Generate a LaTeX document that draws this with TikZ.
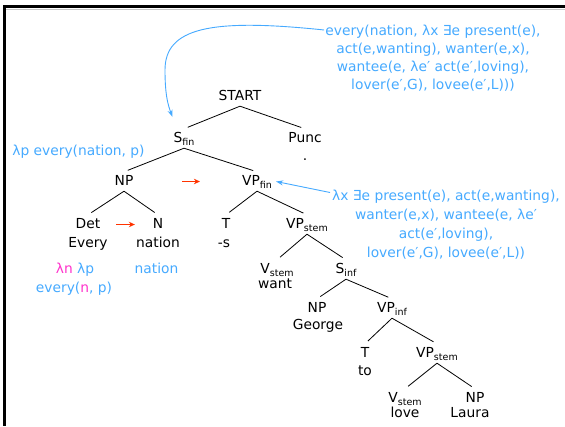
\documentclass[tikz,border=0pt]{standalone}
\usepackage{fontspec}
\setmainfont{DejaVu Sans}
\usetikzlibrary{arrows.meta}
\definecolor{semblue}{RGB}{70,170,255}
\definecolor{semmag}{RGB}{255,51,204}
\definecolor{arrred}{RGB}{255,51,0}
\newcommand{\sbs}[1]{\raisebox{-3.5pt}{\fontsize{9.5}{10}\selectfont #1}}
\begin{document}
\begin{tikzpicture}[x=1pt,y=-1pt]
\tikzset{
 cat/.style={font=\fontsize{13.8}{16}\selectfont, inner sep=3pt, text height=10pt, text depth=3pt, anchor=base},
 sem/.style={font=\fontsize{13.8}{16}\selectfont, text=semblue, inner sep=0pt, anchor=base},
 ann/.style={font=\fontsize{13.8}{18.2}\selectfont, text=semblue, inner sep=0pt, align=center, anchor=north},
 edge/.style={draw=black, line width=0.8pt, shorten >=4pt},
 semarrow/.style={draw=semblue, line width=0.9pt, -{Stealth[length=7pt,width=5pt]}},
 redarrow/.style={draw=arrred, line width=1.4pt, -{Stealth[length=6pt,width=5.5pt]}},
}
\useasboundingbox (0,0) rectangle (565,426);
\fill[white] (0,0) rectangle (565,426);
\draw[gray!45, line width=1pt] (6,9.2) -- (565,9.2);
\draw[line width=3pt] (3,6.5) -- (565,6.5);
\draw[line width=3pt] (4.3,5) -- (4.3,426);

% tree nodes
\node[cat] (start) at (240,100) {START};
\node[cat] (sfin) at (184,142) {S\sbs{fin}};
\node[cat] (punc) at (305,142) {Punc};
\node[cat] (dot) at (305,160) {.};
\node[cat] (np1) at (124,185) {NP};
\node[cat] (vpfin) at (257,185) {VP\sbs{fin}};
\node[cat] (det) at (88,228) {Det};
\node[cat] (every) at (88,247) {Every};
\node[cat] (n) at (158,228) {N};
\node[cat] (nation) at (158,247) {nation};
\node[cat] (t1) at (226,228) {T};
\node[cat] (s) at (224,247) {-s};
\node[cat] (vpstem1) at (307,228) {VP\sbs{stem}};
\node[cat] (vstem1) at (277,273) {V\sbs{stem}};
\node[cat] (want) at (275,288) {want};
\node[cat] (sinf) at (346,273) {S\sbs{inf}};
\node[cat] (np2) at (317,312) {NP};
\node[cat] (george) at (318,329) {George};
\node[cat] (vpinf) at (392,312) {VP\sbs{inf}};
\node[cat] (t2) at (365,357) {T};
\node[cat] (to) at (365,375) {to};
\node[cat] (vpstem2) at (437,357) {VP\sbs{stem}};
\node[cat] (vstem2) at (405,402) {V\sbs{stem}};
\node[cat] (love) at (405,417) {love};
\node[cat] (np3) at (475,402) {NP};
\node[cat] (laura) at (470,417) {Laura};

% semantics
\node[sem] (semS) at (78.5,155) {λp every(nation, p)};
\node[sem] (semdet1) at (75,273) {\textcolor{semmag}{λn} λp};
\node[sem] (semdet2) at (74,292) {every(\textcolor{semmag}{n}, p)};
\node[sem] (semN) at (156.5,273) {nation};
\node[ann] (ann1) at (433,24.5) {every(nation, λx ∃e present(e),\\act(e,wanting), wanter(e,x),\\wantee(e, λe′ act(e′,loving),\\lover(e′,G), lovee(e′,L)))};
\node[ann, font=\fontsize{13.8}{19}\selectfont] (ann2) at (446,189.5) {λx ∃e present(e), act(e,wanting),\\wanter(e,x), wantee(e, λe′\\act(e′,loving),\\lover(e′,G), lovee(e′,L))};

% edges
\draw[edge] (start.south) -- (sfin.north);
\draw[edge] (start.south) -- (punc.north);
\draw[edge] (sfin.south) -- (np1.north);
\draw[edge] (sfin.south) -- (vpfin.north);
\draw[edge] (np1.south) -- (det.north);
\draw[edge] (np1.south) -- (n.north);
\draw[edge] (vpfin.south) -- (t1.north);
\draw[edge] (vpfin.south) -- (vpstem1.north);
\draw[edge] (vpstem1.south) -- (vstem1.north);
\draw[edge] (vpstem1.south) -- (sinf.north);
\draw[edge] (sinf.south) -- (np2.north);
\draw[edge] (sinf.south) -- (vpinf.north);
\draw[edge] (vpinf.south) -- (t2.north);
\draw[edge] (vpinf.south) -- (vpstem2.north);
\draw[edge] (vpstem2.south) -- (vstem2.north);
\draw[edge] (vpstem2.south) -- (np3.north);

% red arrows
\draw[redarrow, shorten <=45.7pt, shorten >=39pt] (np1) -- (vpfin);
\draw[redarrow, shorten <=12.7pt, shorten >=14.8pt] (det) -- (n);

% blue arrows
\coordinate (a1s) at ([shift={(-1pt,-5.5pt)}]ann1.north west);
\draw[semarrow] (a1s) .. controls (210,18) and (165,28) .. (165,70) .. controls (165,95) and (168,105) .. ([shift={(2pt,12pt)}]sfin.north west);
\coordinate (a2s) at ([shift={(-2pt,-3pt)}]ann2.north west);
\draw[semarrow] (a2s) -- ([xshift=1pt]vpfin.east);
\end{tikzpicture}
\end{document}
